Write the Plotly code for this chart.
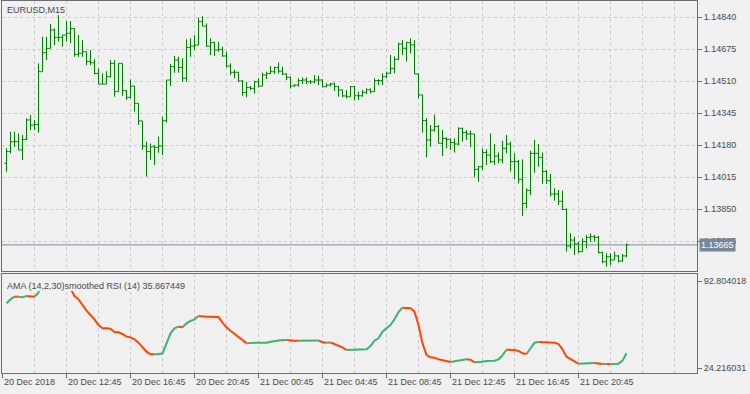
import plotly.graph_objects as go

# ---------------- data (EURUSD, M15; bars 20 Dec 09:00 .. 21 Dec 23:45) ----------------
open_ = [1.14085,1.14146,1.14197,1.14197,1.14154,1.14209,1.14309,1.14283,1.14286,1.14558,
1.14656,1.14678,1.14773,1.14735,1.14735,1.14747,1.14756,1.14781,1.14647,1.14653,
1.14661,1.14610,1.14604,1.14549,1.14494,1.14494,1.14532,1.14601,1.14455,1.14601,
1.14460,1.14426,1.14484,1.14395,1.14304,1.14175,1.14146,1.14171,1.14168,1.14175,
1.14305,1.14515,1.14584,1.14618,1.14580,1.14524,1.14683,1.14690,1.14695,1.14816,
1.14793,1.14690,1.14708,1.14670,1.14673,1.14639,1.14587,1.14555,1.14555,1.14510,
1.14450,1.14477,1.14472,1.14506,1.14484,1.14541,1.14549,1.14558,1.14579,1.14561,
1.14546,1.14529,1.14484,1.14489,1.14512,1.14515,1.14506,1.14506,1.14515,1.14515,
1.14481,1.14489,1.14495,1.14481,1.14464,1.14433,1.14429,1.14481,1.14434,1.14434,
1.14452,1.14464,1.14455,1.14512,1.14512,1.14532,1.14550,1.14575,1.14622,1.14701,
1.14679,1.14708,1.14696,1.14546,1.14438,1.14306,1.14206,1.14257,1.14275,1.14189,
1.14214,1.14209,1.14192,1.14185,1.14266,1.14244,1.14237,1.14237,1.14055,1.14068,
1.14141,1.14128,1.14094,1.14123,1.14103,1.14163,1.14185,1.14094,1.14094,1.14003,
1.13879,1.13945,1.14137,1.14137,1.14116,1.14043,1.13996,1.13927,1.13927,1.13890,
1.13848,1.13659,1.13690,1.13670,1.13630,1.13682,1.13704,1.13707,1.13704,1.13625,
1.13578,1.13604,1.13587,1.13608,1.13582,1.13608]
high = [1.14163,1.14249,1.14249,1.14240,1.14232,1.14317,1.14335,1.14309,1.14601,1.14738,
1.14738,1.14804,1.14781,1.14850,1.14747,1.14819,1.14819,1.14781,1.14747,1.14721,
1.14661,1.14670,1.14622,1.14575,1.14549,1.14561,1.14618,1.14618,1.14601,1.14601,
1.14463,1.14518,1.14484,1.14395,1.14304,1.14197,1.14188,1.14180,1.14223,1.14326,
1.14515,1.14598,1.14639,1.14635,1.14627,1.14725,1.14730,1.14747,1.14838,1.14845,
1.14807,1.14730,1.14713,1.14713,1.14687,1.14661,1.14601,1.14567,1.14558,1.14515,
1.14506,1.14484,1.14512,1.14524,1.14553,1.14558,1.14587,1.14584,1.14606,1.14584,
1.14549,1.14532,1.14494,1.14524,1.14529,1.14529,1.14515,1.14541,1.14538,1.14519,
1.14498,1.14501,1.14501,1.14484,1.14464,1.14464,1.14484,1.14484,1.14455,1.14464,
1.14472,1.14472,1.14524,1.14519,1.14550,1.14558,1.14644,1.14636,1.14708,1.14721,
1.14713,1.14730,1.14721,1.14550,1.14438,1.14318,1.14283,1.14335,1.14283,1.14257,
1.14220,1.14214,1.14214,1.14271,1.14269,1.14257,1.14254,1.14237,1.14072,1.14163,
1.14158,1.14240,1.14185,1.14141,1.14202,1.14232,1.14197,1.14137,1.14103,1.14106,
1.13957,1.14151,1.14206,1.14185,1.14141,1.14051,1.14031,1.13957,1.13948,1.13945,
1.13853,1.13725,1.13707,1.13682,1.13699,1.13716,1.13725,1.13716,1.13711,1.13630,
1.13622,1.13622,1.13630,1.13613,1.13618,1.13673]
low = [1.14042,1.14137,1.14171,1.14154,1.14103,1.14206,1.14257,1.14257,1.14243,1.14558,
1.14618,1.14678,1.14695,1.14713,1.14687,1.14713,1.14704,1.14635,1.14635,1.14635,
1.14592,1.14592,1.14544,1.14494,1.14494,1.14494,1.14529,1.14429,1.14455,1.14433,
1.14412,1.14420,1.14352,1.14283,1.14154,1.14017,1.14103,1.14077,1.14140,1.14128,
1.14295,1.14484,1.14553,1.14553,1.14506,1.14506,1.14635,1.14670,1.14695,1.14793,
1.14687,1.14644,1.14639,1.14661,1.14635,1.14580,1.14541,1.14524,1.14506,1.14434,
1.14426,1.14463,1.14446,1.14477,1.14484,1.14520,1.14546,1.14546,1.14549,1.14541,
1.14515,1.14472,1.14481,1.14481,1.14494,1.14494,1.14494,1.14498,1.14489,1.14477,
1.14477,1.14481,1.14459,1.14429,1.14426,1.14421,1.14429,1.14409,1.14412,1.14429,
1.14443,1.14446,1.14455,1.14489,1.14489,1.14524,1.14546,1.14550,1.14618,1.14644,
1.14610,1.14653,1.14546,1.14421,1.14244,1.14116,1.14171,1.14249,1.14189,1.14123,
1.14163,1.14154,1.14141,1.14180,1.14197,1.14206,1.14168,1.14013,1.13991,1.14051,
1.14077,1.14086,1.14077,1.14086,1.14086,1.14137,1.14043,1.14003,1.13982,1.13814,
1.13853,1.13922,1.14037,1.14068,1.13979,1.13979,1.13914,1.13893,1.13871,1.13845,
1.13630,1.13647,1.13613,1.13622,1.13630,1.13647,1.13682,1.13682,1.13622,1.13570,
1.13553,1.13561,1.13587,1.13573,1.13578,1.13601]
close = [1.14146,1.14197,1.14197,1.14154,1.14209,1.14309,1.14283,1.14286,1.14558,1.14656,
1.14678,1.14773,1.14735,1.14735,1.14747,1.14756,1.14781,1.14647,1.14653,1.14661,
1.14610,1.14604,1.14549,1.14494,1.14494,1.14532,1.14601,1.14455,1.14601,1.14460,
1.14426,1.14484,1.14395,1.14304,1.14175,1.14146,1.14171,1.14168,1.14175,1.14305,
1.14515,1.14584,1.14618,1.14580,1.14524,1.14683,1.14690,1.14695,1.14816,1.14793,
1.14690,1.14708,1.14670,1.14673,1.14639,1.14587,1.14555,1.14555,1.14510,1.14450,
1.14477,1.14472,1.14506,1.14484,1.14541,1.14549,1.14558,1.14579,1.14561,1.14546,
1.14529,1.14484,1.14489,1.14512,1.14515,1.14506,1.14506,1.14515,1.14515,1.14481,
1.14489,1.14495,1.14481,1.14464,1.14433,1.14429,1.14481,1.14434,1.14434,1.14452,
1.14464,1.14455,1.14512,1.14512,1.14532,1.14550,1.14575,1.14622,1.14701,1.14679,
1.14708,1.14696,1.14546,1.14438,1.14306,1.14206,1.14257,1.14275,1.14189,1.14214,
1.14209,1.14192,1.14185,1.14266,1.14244,1.14237,1.14237,1.14055,1.14068,1.14141,
1.14128,1.14094,1.14123,1.14103,1.14163,1.14185,1.14094,1.14094,1.14003,1.13879,
1.13945,1.14137,1.14137,1.14116,1.14043,1.13996,1.13927,1.13927,1.13890,1.13848,
1.13659,1.13690,1.13670,1.13630,1.13682,1.13704,1.13707,1.13704,1.13625,1.13578,
1.13604,1.13587,1.13608,1.13582,1.13608,1.13665]

# AMA smoothed RSI (14,2,30) per bar
ama_rsi = [75.20,78.35,80.46,80.46,79.93,80.98,80.46,80.46,83.61,99.0,
99.6,99.8,99.7,99.5,99.3,99.0,87.03,80.98,78.35,73.89,
69.42,66.00,62.59,58.12,55.49,55.49,55.23,52.60,52.34,51.02,
48.92,48.39,46.82,44.19,40.51,37.09,34.99,34.99,34.99,35.78,
43.14,51.55,55.49,56.80,56.28,59.43,61.27,62.59,65.21,64.69,
64.69,64.69,64.69,64.43,59.96,56.28,53.65,51.02,48.92,45.77,
43.80,44.05,44.19,44.19,44.19,44.19,44.98,45.50,46.29,46.29,
46.29,45.77,45.77,45.77,45.90,45.90,45.90,45.90,45.90,44.45,
44.19,44.30,43.14,42.09,40.51,38.41,38.50,38.50,38.50,38.50,
38.93,41.56,45.77,47.61,52.86,55.49,58.12,62.59,68.37,71.78,
71.70,71.40,68.63,58.12,43.66,34.47,32.63,32.36,31.05,30.52,
29.47,28.95,29.47,30.00,30.52,31.05,30.80,28.68,28.75,29.21,
29.74,30.00,30.00,31.05,34.20,38.60,38.41,38.41,37.62,35.78,
35.25,39.72,44.19,44.72,44.60,44.45,44.45,44.19,43.14,38.93,
33.15,31.05,29.47,27.60,27.70,27.80,28.16,28.16,27.63,27.37,
27.45,27.37,27.45,27.63,30.00,35.867449]

# colour runs of the indicator line: (first segment end bar, last segment end bar, direction)
trend_runs = [(1,2,'up'),(3,3,'down'),(4,5,'up'),(6,7,'down'),(8,15,'up'),(16,37,'down'),
(38,43,'up'),(44,44,'down'),(45,48,'up'),(49,60,'down'),(61,70,'up'),(71,73,'down'),
(74,78,'up'),(79,80,'down'),(81,81,'up'),(82,85,'down'),(86,99,'up'),(100,111,'down'),
(112,115,'up'),(116,117,'down'),(118,125,'up'),(126,130,'down'),(131,133,'up'),
(134,143,'down'),(144,147,'up'),(148,149,'down'),(150,150,'up'),(151,151,'down'),(152,155,'up')]

price_ticks = [1.14840,1.14675,1.14510,1.14345,1.14180,1.14015,1.13850,1.13685]
ind_ticks = [92.804018, 24.216031]
time_tick_bars = [-1,15,31,47,63,79,95,111,127,143]
time_tick_labels = ["20 Dec 2018","20 Dec 12:45","20 Dec 16:45","20 Dec 20:45",
                    "21 Dec 00:45","21 Dec 04:45","21 Dec 08:45","21 Dec 12:45",
                    "21 Dec 16:45","21 Dec 20:45"]
symbol_label = "EURUSD,M15"
indicator_name = "AMA (14,2,30)smoothed RSI (14)"

# ---------------- figure ----------------
BG = '#f0f0f0'
AX = '#6e6e6e'
GRID = '#c9c9c9'
TXT = '#4a4a4a'
FONT = 'Liberation Sans'
GREEN_BAR = '#008000'
UP = '#3cb371'
DOWN = '#ff4500'
DASH = '3px,3px'

bars = list(range(len(close)))

fig = go.Figure()
fig.add_trace(go.Ohlc(
    x=bars, open=open_, high=high, low=low, close=close,
    increasing=dict(line=dict(color=GREEN_BAR, width=1)),
    decreasing=dict(line=dict(color=GREEN_BAR, width=1)),
    tickwidth=0.5, xaxis='x', yaxis='y', hoverinfo='skip'))

for direction, col in (('up', UP), ('down', DOWN)):
    xs, ys = [], []
    for a, b, d in trend_runs:
        if d != direction:
            continue
        for k in range(a - 1, b + 1):
            xs.append(bars[k]); ys.append(ama_rsi[k])
        xs.append(None); ys.append(None)
    fig.add_trace(go.Scatter(x=xs, y=ys, mode='lines', xaxis='x2', yaxis='y2',
                             line=dict(color=col, width=2), connectgaps=False,
                             hoverinfo='skip'))

# half-pixel offset so that the 1px bar strokes fall on pixel centres
xr = [-1.125, 172.625]
fig.update_layout(
    width=750, height=394,
    margin=dict(l=2, r=53, t=1, b=21, pad=0),
    paper_bgcolor=BG, plot_bgcolor=BG,
    showlegend=False,
    font=dict(family=FONT, size=9, color=TXT),
    xaxis=dict(domain=[0, 1], anchor='y', range=xr, tickmode='linear', tick0=-1, dtick=8,
               showgrid=True, gridcolor=GRID, griddash=DASH, gridwidth=1,
               showticklabels=False, ticks='', zeroline=False,
               showline=True, mirror=True, linecolor=AX, linewidth=1,
               rangeslider=dict(visible=False)),
    yaxis=dict(domain=[0.2742, 1], anchor='x', side='right',
               range=[1.135303, 1.149225],
               tickmode='array', tickvals=price_ticks,
               ticktext=[f"{v:.5f}" for v in price_ticks],
               ticks='outside', ticklen=4, tickcolor=AX,
               showgrid=True, gridcolor=GRID, griddash=DASH, gridwidth=1,
               zeroline=False, showline=True, mirror=True, linecolor=AX, linewidth=1,
               tickfont=dict(family=FONT, size=9, color=TXT)),
    xaxis2=dict(domain=[0, 1], anchor='y2', matches='x', range=xr,
                tickmode='array', tickvals=time_tick_bars, showticklabels=False,
                ticks='outside', ticklen=4, tickcolor=AX,
                showgrid=True, gridcolor=GRID, griddash=DASH, gridwidth=1,
                minor=dict(tickmode='linear', tick0=-1, dtick=8, showgrid=True,
                           gridcolor=GRID, griddash=DASH, gridwidth=1, ticks=''),
                zeroline=False, showline=True, mirror=True, linecolor=AX, linewidth=1),
    yaxis2=dict(domain=[0, 0.2661], anchor='x2', side='right',
                range=[20.274, 98.323],
                tickmode='array', tickvals=ind_ticks,
                ticktext=[f"{v:.6f}" for v in ind_ticks],
                ticks='outside', ticklen=4, tickcolor=AX, showgrid=False,
                zeroline=False, showline=True, mirror=True, linecolor=AX, linewidth=1,
                tickfont=dict(family=FONT, size=9, color=TXT)),
)

annotations = [
    dict(text=symbol_label, xref='paper', x=0, xanchor='left', xshift=3,
         yref='paper', y=1, yanchor='top', yshift=-2, showarrow=False,
         font=dict(family=FONT, size=9, color=TXT)),
    dict(text=f"{indicator_name} {ama_rsi[-1]:.6f}", xref='x2 domain', x=0, xanchor='left',
         xshift=3, yref='y2 domain', y=1, yanchor='top', yshift=-5, showarrow=False,
         font=dict(family=FONT, size=9, color=TXT)),
    dict(text=f"{close[-1]:.5f}", xref='x domain', x=1, xanchor='left', xshift=2,
         yref='y', y=close[-1], yanchor='middle', showarrow=False, bgcolor='#778899',
         borderpad=1, font=dict(family=FONT, size=9, color='#ffffff')),
]
for tb, tl in zip(time_tick_bars, time_tick_labels):
    annotations.append(dict(text=tl, xref='x2', x=tb, xanchor='left', xshift=-1,
                            yref='y2 domain', y=0, yanchor='top', yshift=-2,
                            showarrow=False, font=dict(family=FONT, size=9, color=TXT)))
fig.update_layout(annotations=annotations)

# current price line
fig.add_shape(type='line', xref='x domain', x0=0, x1=1, yref='y', y0=close[-1], y1=close[-1],
              line=dict(color='#7d8a99', width=1), layer='below')
# opaque backing of the indicator caption (hides the line behind the label, as in MT4)
fig.add_shape(type='rect', xref='x2 domain', xsizemode='pixel', xanchor=0, x0=1, x1=191,
              yref='y2 domain', ysizemode='pixel', yanchor=1, y0=0, y1=-17,
              fillcolor=BG, line=dict(width=0), layer='above')

fig.write_html("out.html", config={'displayModeBar': False})
